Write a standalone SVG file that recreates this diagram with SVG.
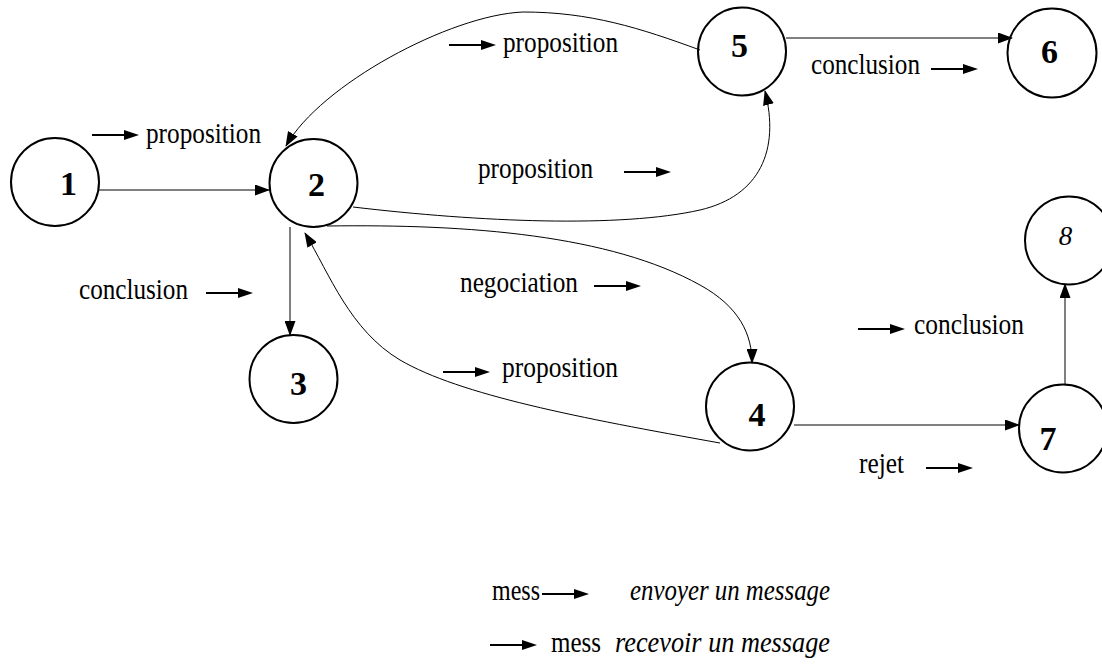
<svg xmlns="http://www.w3.org/2000/svg" width="1102" height="664" viewBox="0 0 1102 664">
<style>
.node{fill:none;stroke:#000;stroke-width:2}
.lbl{font-family:"Liberation Serif","Times New Roman",serif;font-size:34px;font-weight:bold;text-anchor:middle;fill:#000}
.lbl8{font-family:"Liberation Serif","Times New Roman",serif;font-size:27px;font-style:italic;text-anchor:middle;fill:#000}
.t{font-family:"Liberation Serif","Times New Roman",serif;font-size:30px;fill:#000}
.ti{font-family:"Liberation Serif","Times New Roman",serif;font-size:30px;font-style:italic;fill:#000}
.edge{fill:none;stroke:#000;stroke-width:1;marker-end:url(#ah)}
</style>
<defs>
<marker id="ah" markerUnits="userSpaceOnUse" viewBox="0 0 15 11" markerWidth="15" markerHeight="11" refX="14" refY="5.5" orient="auto">
<path d="M0,0 L15,5.5 L0,11 z" fill="#000"/>
</marker>
<g id="ma">
<line x1="0" y1="0" x2="34" y2="0" stroke="#000" stroke-width="2.2"/>
<path d="M32,-5 L47,0 L32,5 z" fill="#000"/>
</g>
</defs>
<rect width="1102" height="664" fill="#fff"/>

<g id="connectors">
<path class="edge" d="M99,190 L269,190"/>
<path class="edge" d="M700,50 C640,28 590,12 523,12 C450,15 320,85 286,146"/>
<path class="edge" d="M353,207 C480,222 620,228 700,210 C760,196 780,150 765,91"/>
<path class="edge" d="M327,226 C470,224 610,235 700,285 C740,307 752,335 752,363"/>
<path class="edge" d="M720,443 C580,418 460,395 400,360 C350,330 330,275 305,233"/>
<path class="edge" d="M290,227 L290,335"/>
<path class="edge" d="M786,38 L1012,38"/>
<path class="edge" d="M794,425 L1019,425"/>
<path class="edge" d="M1065,385 L1065,284"/>
</g>

<g id="node1"><circle class="node" cx="55" cy="182" r="44"/><text class="lbl" x="68.5" y="195">1</text></g>
<g id="node2"><circle class="node" cx="313.5" cy="183" r="44"/><text class="lbl" x="316.5" y="196">2</text></g>
<g id="node3"><circle class="node" cx="293.5" cy="379" r="44"/><text class="lbl" x="298.5" y="395">3</text></g>
<g id="node4"><circle class="node" cx="750" cy="406.5" r="44"/><text class="lbl" x="757" y="426">4</text></g>
<g id="node5"><circle class="node" cx="742" cy="51.5" r="44"/><text class="lbl" x="739.5" y="57">5</text></g>
<g id="node6"><circle class="node" cx="1052" cy="53" r="44.5"/><text class="lbl" x="1049.5" y="63">6</text></g>
<g id="node7"><circle class="node" cx="1063" cy="428.5" r="44"/><text class="lbl" x="1048" y="450">7</text></g>
<g id="node8"><circle class="node" cx="1069" cy="240.5" r="44"/><text class="lbl8" x="1065.5" y="245">8</text></g>

<g id="labels">
<use href="#ma" x="92" y="135"/>
<text class="t" x="146" y="143" textLength="115" lengthAdjust="spacingAndGlyphs">proposition</text>

<use href="#ma" x="449" y="45"/>
<text class="t" x="503" y="52" textLength="115" lengthAdjust="spacingAndGlyphs">proposition</text>

<text class="t" x="478" y="178" textLength="115" lengthAdjust="spacingAndGlyphs">proposition</text>
<use href="#ma" x="624" y="172"/>

<text class="t" x="811" y="74" textLength="109" lengthAdjust="spacingAndGlyphs">conclusion</text>
<use href="#ma" x="931" y="69"/>

<text class="t" x="79" y="299" textLength="109" lengthAdjust="spacingAndGlyphs">conclusion</text>
<use href="#ma" x="206" y="293"/>

<text class="t" x="460" y="292" textLength="118" lengthAdjust="spacingAndGlyphs">negociation</text>
<use href="#ma" x="594" y="286"/>

<use href="#ma" x="443" y="372"/>
<text class="t" x="502" y="377" textLength="116" lengthAdjust="spacingAndGlyphs">proposition</text>

<use href="#ma" x="858" y="329"/>
<text class="t" x="914" y="334" textLength="110" lengthAdjust="spacingAndGlyphs">conclusion</text>

<text class="t" x="859" y="473" textLength="45" lengthAdjust="spacingAndGlyphs">rejet</text>
<use href="#ma" x="926" y="468"/>
</g>

<g id="legend">
<text class="t" x="492" y="600" textLength="48" lengthAdjust="spacingAndGlyphs">mess</text>
<use href="#ma" x="542" y="594"/>
<text class="ti" x="630" y="600" textLength="200" lengthAdjust="spacingAndGlyphs">envoyer un message</text>
<use href="#ma" x="490" y="645"/>
<text class="t" x="551" y="652" textLength="50" lengthAdjust="spacingAndGlyphs">mess</text>
<text class="ti" x="615" y="652" textLength="215" lengthAdjust="spacingAndGlyphs">recevoir un message</text>
</g>
</svg>
